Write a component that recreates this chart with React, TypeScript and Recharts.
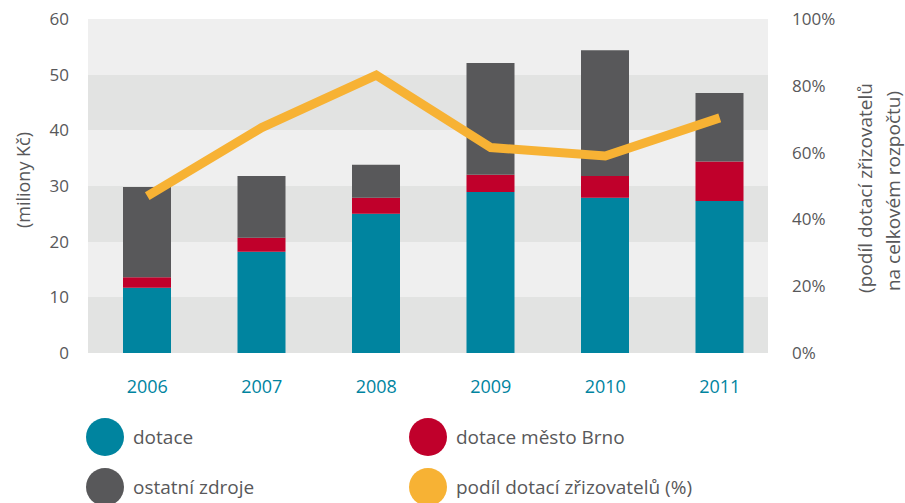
import React from "react";
import {
  Bar,
  CartesianGrid,
  ComposedChart,
  Line,
  XAxis,
  YAxis,
} from "recharts";

const years = ["2006", "2007", "2008", "2009", "2010", "2011"];
const dotace = [11.7, 18.2, 25.0, 28.9, 27.9, 27.3];
const dotaceBrno = [1.9, 2.5, 2.9, 3.1, 3.9, 7.1];
const ostatniZdroje = [16.2, 11.1, 5.9, 20.1, 22.6, 12.3];
const podilDotaci = [47, 67.5, 83.2, 61.5, 59, 70.4];

const leftTicks = [0, 10, 20, 30, 40, 50, 60];
const rightTicks = [0, 20, 40, 60, 80, 100];

const TEAL = "#00849f";
const RED = "#c0002b";
const GRAY = "#58585a";
const YELLOW = "#f7b234";
const TEXT = "#58585a";
const FONT = "'Open Sans', sans-serif";

const data = years.map((year, i) => ({
  year,
  dotace: dotace[i],
  brno: dotaceBrno[i],
  ostatni: ostatniZdroje[i],
  podil: podilDotaci[i],
}));

const legendItems = [
  { label: "dotace", color: TEAL, left: 86, top: 418 },
  { label: "dotace město Brno", color: RED, left: 409, top: 418 },
  { label: "ostatní zdroje", color: GRAY, left: 86, top: 468 },
  { label: "podíl dotací zřizovatelů (%)", color: YELLOW, left: 409, top: 468 },
];

export default function App() {
  return (
    <div
      style={{
        position: "absolute",
        left: 0,
        top: 0,
        width: 905,
        height: 503,
        background: "#fff",
        fontFamily: FONT,
        overflow: "hidden",
      }}
    >
      <ComposedChart
        width={905}
        height={503}
        data={data}
        margin={{ top: 19, right: 0, left: 0, bottom: 0 }}
      >
        <CartesianGrid
          yAxisId="left"
          vertical={false}
          stroke="transparent"
          horizontalFill={["#efefef", "#e2e3e2"]}
        />
        <XAxis
          dataKey="year"
          height={150}
          padding={{ left: 2, right: -9 }}
          axisLine={false}
          tickLine={false}
          tickMargin={21}
          tick={{ fontSize: 18, fill: TEAL, fontFamily: FONT }}
        />
        <YAxis
          yAxisId="left"
          width={88}
          domain={[0, 60]}
          ticks={leftTicks}
          axisLine={false}
          tickLine={false}
          tickMargin={13}
          tick={{ fontSize: 17, fill: TEXT, fontFamily: FONT }}
          label={() => (
            <text
              x={23}
              y={180}
              transform="rotate(-90 23 180)"
              textAnchor="middle"
              dominantBaseline="central"
              fontSize={18}
              fill={TEXT}
              fontFamily={FONT}
            >
              (miliony Kč)
            </text>
          )}
        />
        <YAxis
          yAxisId="right"
          orientation="right"
          width={137}
          domain={[0, 100]}
          ticks={rightTicks}
          axisLine={false}
          tickLine={false}
          tickMargin={18}
          tickFormatter={(v: number) => `${v}%`}
          tick={{ fontSize: 17, fill: TEXT, fontFamily: FONT, textAnchor: "start" }}
          label={() => (
            <g fontSize={19} fill={TEXT} fontFamily={FONT}>
              <text
                x={865}
                y={188}
                transform="rotate(-90 865 188)"
                textAnchor="middle"
                dominantBaseline="central"
              >
                (podíl dotací zřizovatelů
              </text>
              <text
                x={893}
                y={191}
                transform="rotate(-90 893 191)"
                textAnchor="middle"
                dominantBaseline="central"
              >
                na celkovém rozpočtu)
              </text>
            </g>
          )}
        />
        <Bar yAxisId="left" dataKey="dotace" stackId="a" fill={TEAL} barSize={48} isAnimationActive={false} />
        <Bar yAxisId="left" dataKey="brno" stackId="a" fill={RED} barSize={48} isAnimationActive={false} />
        <Bar yAxisId="left" dataKey="ostatni" stackId="a" fill={GRAY} barSize={48} isAnimationActive={false} />
        <Line
          yAxisId="right"
          type="linear"
          dataKey="podil"
          stroke={YELLOW}
          strokeWidth={9}
          strokeLinecap="butt"
          strokeLinejoin="miter"
          dot={false}
          isAnimationActive={false}
        />
      </ComposedChart>
      {legendItems.map((item) => (
        <div
          key={item.label}
          style={{
            position: "absolute",
            left: item.left,
            top: item.top,
            display: "flex",
            alignItems: "center",
            height: 38,
          }}
        >
          <span
            style={{
              width: 38,
              height: 38,
              borderRadius: "50%",
              background: item.color,
              display: "inline-block",
            }}
          />
          <span style={{ marginLeft: 9, fontSize: 19, color: TEXT }}>{item.label}</span>
        </div>
      ))}
    </div>
  );
}
